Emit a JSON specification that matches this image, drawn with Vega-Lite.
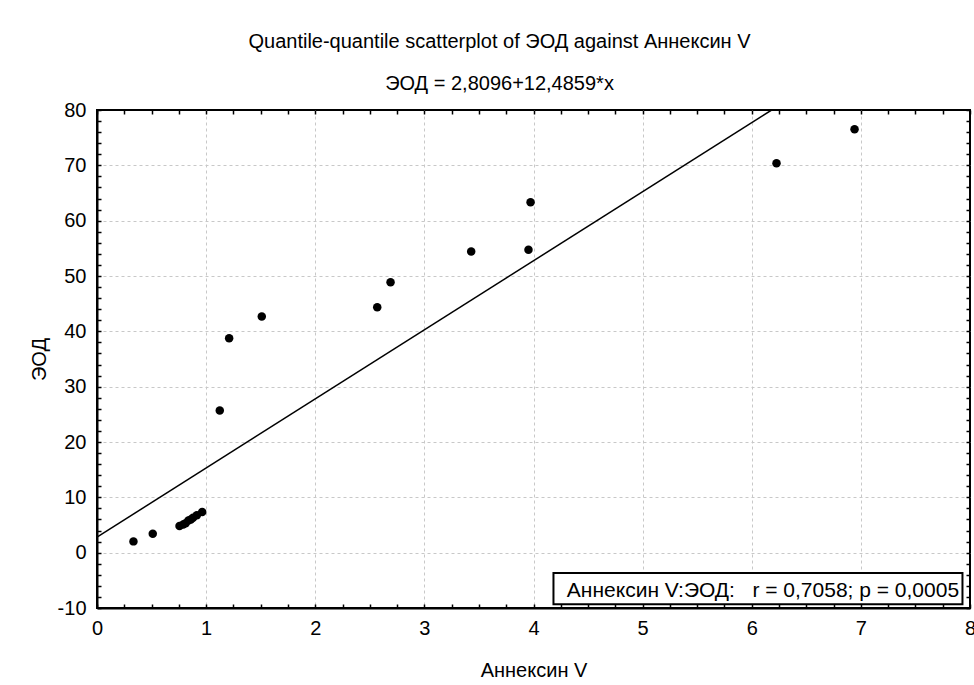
{
  "$schema": "https://vega.github.io/schema/vega-lite/v6.json",
  "width": 873,
  "height": 498,
  "autosize": {"type": "none"},
  "padding": {"left": 97, "top": 110, "right": 4, "bottom": 77},
  "background": "white",
  "config": {
    "font": "Liberation Sans",
    "view": {"stroke": "black", "strokeWidth": 2},
    "axis": {"labelFont": "Liberation Sans", "titleFont": "Liberation Sans", "labelColor": "black", "titleColor": "black", "titleFontWeight": "normal", "labelFontSize": 20, "titleFontSize": 20}
  },
  "title": {
    "text": "Quantile-quantile scatterplot of ЭОД against Аннексин V",
    "subtitle": "ЭОД = 2,8096+12,4859*x",
    "font": "Liberation Sans",
    "subtitleFont": "Liberation Sans",
    "fontSize": 20,
    "subtitleFontSize": 20,
    "fontWeight": "normal",
    "color": "black",
    "subtitleColor": "black",
    "anchor": "middle",
    "dx": -34,
    "offset": 6,
    "subtitlePadding": 22
  },
  "datasets": {
    "pts": [
      {"x": 0.334, "y": 2.04},
      {"x": 0.511, "y": 3.43},
      {"x": 0.756, "y": 4.8},
      {"x": 0.79, "y": 5.1},
      {"x": 0.812, "y": 5.3},
      {"x": 0.838, "y": 5.8},
      {"x": 0.86, "y": 6.0},
      {"x": 0.88, "y": 6.3},
      {"x": 0.915, "y": 6.75},
      {"x": 0.964, "y": 7.35},
      {"x": 1.125, "y": 25.7},
      {"x": 1.211, "y": 38.76},
      {"x": 1.51, "y": 42.68},
      {"x": 2.568, "y": 44.36},
      {"x": 2.69, "y": 48.88},
      {"x": 3.429, "y": 54.43},
      {"x": 3.954, "y": 54.73},
      {"x": 3.973, "y": 63.33},
      {"x": 6.227, "y": 70.36},
      {"x": 6.942, "y": 76.5}
    ],
    "fit": [
      {"x": 0, "y": 2.8096},
      {"x": 6.1822, "y": 80}
    ],
    "box": [
      {"x": 4.183, "x2": 7.931, "y": -3.68, "y2": -9.34, "label": "Аннексин V:ЭОД:\u00a0\u00a0\u00a0r = 0,7058; p = 0,0005", "tx": 7.9, "ty": -8.0}
    ]
  },
  "layer": [
    {
      "data": {"name": "pts"},
      "mark": {"type": "point", "filled": true, "color": "black", "opacity": 1, "size": 72},
      "encoding": {
        "x": {
          "field": "x", "type": "quantitative",
          "scale": {"domain": [0, 8], "nice": false, "zero": false},
          "axis": {
            "orient": "bottom",
            "title": "Аннексин V",
            "titlePadding": 22,
            "values": [0,0.25,0.5,0.75,1,1.25,1.5,1.75,2,2.25,2.5,2.75,3,3.25,3.5,3.75,4,4.25,4.5,4.75,5,5.25,5.5,5.75,6,6.25,6.5,6.75,7,7.25,7.5,7.75,8],
            "labelExpr": "datum.value % 1 === 0 ? '' + datum.value : ''",
            "labelPadding": 14,
            "tickSize": -4,
            "tickColor": "black",
            "tickWidth": 1.5,
            "domainColor": "black",
            "domainWidth": 2,
            "grid": true,
            "gridColor": "#c8c8c8",
            "gridDash": [3, 3],
            "gridOpacity": {"condition": {"test": "datum.value % 1 === 0 && datum.value > 0 && datum.value < 8", "value": 1}, "value": 0},
            "labelFlush": false,
            "labelOverlap": false
          }
        },
        "y": {
          "field": "y", "type": "quantitative",
          "scale": {"domain": [-10, 80], "nice": false, "zero": false},
          "axis": {
            "orient": "left",
            "title": "ЭОД",
            "titlePadding": 8,
            "values": [-10,-8,-6,-4,-2,0,2,4,6,8,10,12,14,16,18,20,22,24,26,28,30,32,34,36,38,40,42,44,46,48,50,52,54,56,58,60,62,64,66,68,70,72,74,76,78,80],
            "labelExpr": "datum.value % 10 === 0 ? '' + datum.value : ''",
            "labelPadding": 15,
            "tickSize": -4,
            "tickColor": "black",
            "tickWidth": 1.5,
            "domainColor": "black",
            "domainWidth": 2,
            "grid": true,
            "gridColor": "#c8c8c8",
            "gridDash": [3, 3],
            "gridOpacity": {"condition": {"test": "datum.value % 10 === 0 && datum.value > -10 && datum.value < 80", "value": 1}, "value": 0},
            "labelFlush": false,
            "labelOverlap": false
          }
        }
      }
    },
    {
      "data": {"name": "fit"},
      "mark": {"type": "line", "color": "black", "strokeWidth": 1.5, "clip": true},
      "encoding": {
        "x": {
          "field": "x", "type": "quantitative",
          "axis": {
            "orient": "top", "title": null, "labels": false, "grid": false, "domain": false,
            "values": [0,0.25,0.5,0.75,1,1.25,1.5,1.75,2,2.25,2.5,2.75,3,3.25,3.5,3.75,4,4.25,4.5,4.75,5,5.25,5.5,5.75,6,6.25,6.5,6.75,7,7.25,7.5,7.75,8],
            "tickSize": -4, "tickColor": "black", "tickWidth": 1.5
          }
        },
        "y": {
          "field": "y", "type": "quantitative",
          "axis": {
            "orient": "right", "title": null, "labels": false, "grid": false, "domain": false,
            "values": [-10,-8,-6,-4,-2,0,2,4,6,8,10,12,14,16,18,20,22,24,26,28,30,32,34,36,38,40,42,44,46,48,50,52,54,56,58,60,62,64,66,68,70,72,74,76,78,80],
            "tickSize": -4, "tickColor": "black", "tickWidth": 1.5
          }
        }
      }
    },
    {
      "data": {"name": "box"},
      "mark": {"type": "rect", "fill": "white", "stroke": "black", "strokeWidth": 2},
      "encoding": {
        "x": {"field": "x", "type": "quantitative", "axis": null},
        "x2": {"field": "x2"},
        "y": {"field": "y", "type": "quantitative", "axis": null},
        "y2": {"field": "y2"}
      }
    },
    {
      "data": {"name": "box"},
      "mark": {"type": "text", "align": "right", "baseline": "alphabetic", "fontSize": 21, "font": "Liberation Sans", "color": "black"},
      "encoding": {
        "x": {"field": "tx", "type": "quantitative", "axis": null},
        "y": {"field": "ty", "type": "quantitative", "axis": null},
        "text": {"field": "label"}
      }
    }
  ],
  "resolve": {"axis": {"x": "independent", "y": "independent"}}
}
